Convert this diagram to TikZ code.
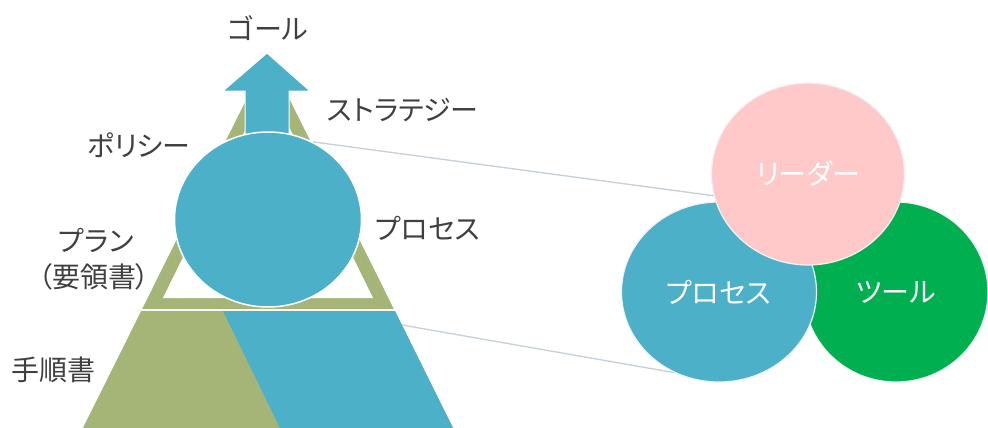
\documentclass[tikz,border=0pt]{standalone}
\usepackage{fontspec}
\usetikzlibrary{shapes.geometric}
\newfontfamily\jp[RawFeature=+palt]{Noto Sans CJK JP}
\definecolor{pyrgreen}{HTML}{A5B577}
\definecolor{aqua}{HTML}{4BB0C8}
\definecolor{pinkc}{HTML}{FFC9C9}
\definecolor{toolgreen}{HTML}{00B050}
\definecolor{txt}{HTML}{404040}
\definecolor{conn}{HTML}{C5D0D8}
\tikzset{
  lbl/.style={font=\jp\fontsize{28}{32}\selectfont, text=txt, inner sep=0pt},
  clbl/.style={font=\jp\fontsize{28}{32}\selectfont, text=white, inner sep=0pt},
  venn/.style={ellipse, draw=white!90!gray, line width=1.2pt, inner sep=0pt},
  connector/.style={draw=conn, line width=1.3pt},
}
\begin{document}
\begin{tikzpicture}[x=1pt,y=-1pt]
\useasboundingbox (0,0) rectangle (988,428);
\fill[white] (0,0) rectangle (988,428);
% pyramid
\fill[pyrgreen] (268,56) -- (83,428) -- (453,428) -- cycle;
\fill[aqua] (223,311) -- (395,311) -- (453,428) -- (280,428) -- cycle;
\fill[white] (268,84) -- (163,298) -- (373,298) -- cycle;
\draw[white!94!gray, line width=2.5pt] (137,310) -- (397,310);
% arrow
\draw[fill=aqua, draw=white, line width=1pt] (267,53) -- (310,91) -- (289,91) -- (289,136) -- (245,136) -- (245,91) -- (223,91) -- cycle;
% big circle
\node[ellipse, fill=aqua, draw=white, line width=1.5pt, minimum width=187pt, minimum height=175pt, inner sep=0pt] (bigc) at (268,219.5) {};
% labels
\node[lbl] (goal) at (268,28) {ゴール};
\node[lbl] (strat) at (403,110) {ストラテジー};
\node[lbl] (policy) at (139,145) {ポリシー};
\node[lbl] (proc) at (428,228) {プロセス};
\node[lbl] (plan) at (96,240) {プラン};
\node[lbl] (youryou) at (94,277) {（要領書）};
\node[lbl] (tejun) at (54,370) {手順書};
% venn circles
\node[venn, fill=toolgreen, minimum width=184pt, minimum height=180pt] (tool) at (896,292) {};
\node[venn, fill=aqua, minimum width=195pt, minimum height=180pt] (vproc) at (719,292) {};
\node[venn, fill=pinkc, minimum width=193pt, minimum height=182pt] (leader) at (808,174) {};
\node[clbl] at (leader) {リーダー};
\node[clbl] at (vproc) {プロセス};
\node[clbl] at (tool) {ツール};
% connectors
\coordinate (pyrR) at (402,325);
\draw[connector] (bigc.60) -- (leader.193);
\draw[connector] (pyrR) -- (vproc.241);
\end{tikzpicture}
\end{document}
